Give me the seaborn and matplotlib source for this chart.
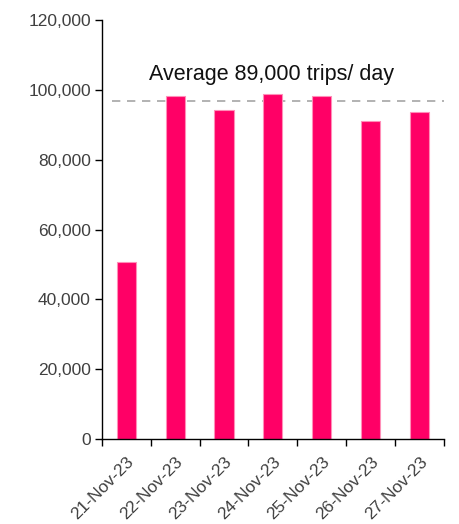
import matplotlib
matplotlib.use("Agg")
import matplotlib.pyplot as plt
import seaborn as sns
import pandas as pd
from matplotlib.ticker import FuncFormatter, FixedLocator

dates = ["21-Nov-23", "22-Nov-23", "23-Nov-23", "24-Nov-23", "25-Nov-23", "26-Nov-23", "27-Nov-23"]
trips = [50700, 98300, 94300, 98900, 98100, 91100, 93600]
avg_line_value = 96700
avg_label = "Average 89,000 trips/ day"
y_ticks = [0, 20000, 40000, 60000, 80000, 100000, 120000]

df = pd.DataFrame({"date": dates, "trips": trips})

sns.set_theme(style="white")
plt.rcParams["font.family"] = ["Liberation Sans", "DejaVu Sans"]

fig = plt.figure(figsize=(4.59, 5.24), dpi=100)
ax = fig.add_axes([0.222, 0.162, 0.745, 0.800])

sns.barplot(data=df, x="date", y="trips", color="#FF0066", width=0.39,
            edgecolor="#FF8FB8", linewidth=0.8, saturation=1, ax=ax)

ax.set_ylim(0, 120000)
ax.set_xlim(-0.5, len(dates) - 0.5)
ax.set_yticks(y_ticks)
ax.yaxis.set_major_formatter(FuncFormatter(lambda v, p: f"{int(v):,}"))
ax.set_xlabel("")
ax.set_ylabel("")

ax.axhline(avg_line_value, color="#A6A6A6", linestyle=(0, (5, 4)), linewidth=1.2,
           xmin=0.03, xmax=1.0, zorder=0)
ax.text(2.97, 104500, avg_label, ha="center", va="center", fontsize=15.5, color="#111111")

for s in ["top", "right"]:
    ax.spines[s].set_visible(False)
for s in ["left", "bottom"]:
    ax.spines[s].set_color("black")
    ax.spines[s].set_linewidth(1.0)

ax.tick_params(axis="y", which="major", direction="out", length=5, width=1, color="black",
               labelsize=12.5, labelcolor="#404040", left=True, pad=3)
ax.tick_params(axis="x", which="major", length=0, labelsize=12.5, labelcolor="#404040", pad=11)
ax.xaxis.set_minor_locator(FixedLocator([i - 0.5 for i in range(len(dates) + 1)]))
ax.tick_params(axis="x", which="minor", direction="out", length=5, width=1, color="black", bottom=True)
for lbl in ax.get_xticklabels():
    lbl.set_rotation(45)
    lbl.set_ha("right")
    lbl.set_rotation_mode("anchor")

fig.savefig("out.png", dpi=100)
